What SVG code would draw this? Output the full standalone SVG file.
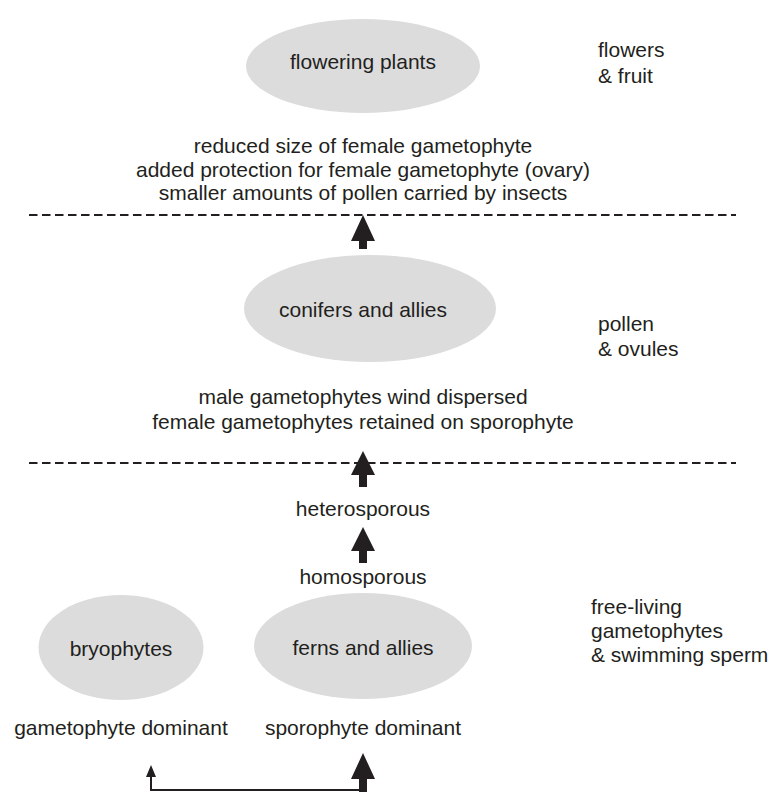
<svg xmlns="http://www.w3.org/2000/svg" width="777" height="792" viewBox="0 0 777 792">
<style>
text{font-family:"Liberation Sans",Arial,sans-serif;font-size:21px;fill:#231f20}
.c{text-anchor:middle}
.node{fill:#dcdcdd}
.dash{stroke:#231f20;stroke-width:2;stroke-dasharray:8.5 4.5;fill:none}
.thick{fill:#231f20}
.thin{stroke:#231f20;stroke-width:2;fill:none}
</style>
<rect width="777" height="792" fill="#ffffff"/>
<g id="flowering-plants"><ellipse class="node" cx="363" cy="66" rx="117" ry="47"/><text class="c" x="363" y="69">flowering plants</text></g>
<g id="conifers"><ellipse class="node" cx="370" cy="308.5" rx="126" ry="53.5"/><text class="c" x="363" y="317">conifers and allies</text></g>
<g id="bryophytes"><ellipse class="node" cx="121" cy="647.5" rx="82.5" ry="52.5"/><text class="c" x="121" y="656">bryophytes</text></g>
<g id="ferns"><ellipse class="node" cx="363" cy="646" rx="109" ry="53"/><text class="c" x="363" y="655">ferns and allies</text></g>
<g id="labels">
<text x="598" y="57">flowers</text><text x="598" y="83">&amp; fruit</text>
<text class="c" x="363" y="153">reduced size of female gametophyte</text>
<text class="c" x="363" y="177">added protection for female gametophyte (ovary)</text>
<text class="c" x="363" y="200">smaller amounts of pollen carried by insects</text>
<text x="598" y="331">pollen</text><text x="598" y="356">&amp; ovules</text>
<text class="c" x="363" y="404">male gametophytes wind dispersed</text>
<text class="c" x="363" y="429">female gametophytes retained on sporophyte</text>
<text class="c" x="363" y="516">heterosporous</text>
<text class="c" x="363" y="584">homosporous</text>
<text x="591" y="614">free-living</text>
<text x="591" y="638">gametophytes</text>
<text x="591" y="662">&amp; swimming sperm</text>
<text class="c" x="121" y="735">gametophyte dominant</text>
<text class="c" x="363" y="735">sporophyte dominant</text>
</g>
<g id="dividers">
<line class="dash" x1="29" y1="215" x2="736" y2="215"/>
<line class="dash" x1="29" y1="463" x2="736" y2="463"/>
</g>
<g id="connectors">
<polygon class="thick" points="363,215 351,241 359,241 359,249 367,249 367,241 375,241"/>
<polygon class="thick" points="363,451 351,475 359,475 359,487 367,487 367,475 375,475"/>
<polygon class="thick" points="363,527 351,551 359,551 359,563 367,563 367,551 375,551"/>
<polygon class="thick" points="363,753 351,779 359,779 359,795 367,795 367,779 375,779"/>
<polyline class="thin" points="362,790 151,790 151,775"/>
<polygon class="thick" points="151,765 146,777 156,777"/>
</g>
</svg>
